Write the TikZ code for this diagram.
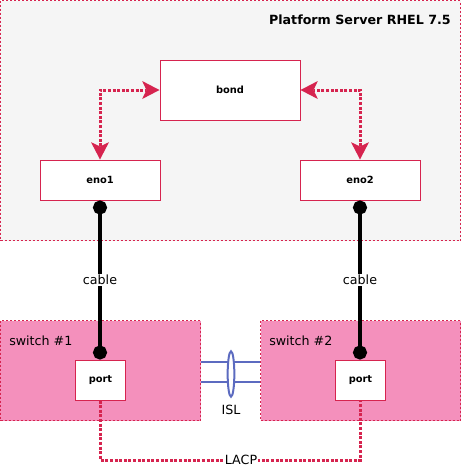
\documentclass[tikz,border=0pt]{standalone}
\usepackage{fontspec}
\setmainfont{DejaVu Sans}
\usetikzlibrary{arrows.meta,calc,shapes.geometric}
\definecolor{crim}{HTML}{D6244F}
\definecolor{pinkfill}{HTML}{F490BC}
\definecolor{srvfill}{HTML}{F5F5F5}
\definecolor{islblue}{HTML}{5C6BC0}
\tikzset{bondtip/.tip={Stealth[length=13pt,width=13.5pt,inset=3.2pt,fill=crim,line width=0pt]}}
\begin{document}
\begin{tikzpicture}[x=0.75pt,y=-0.75pt,
  container/.style={draw=crim,line width=0.75pt,dash pattern=on 1.5pt off 1.5pt,inner sep=0pt,anchor=north west},
  boxnode/.style={draw=crim,fill=white,line width=0.75pt,inner sep=0pt,font=\bfseries\fontsize{7.4}{8}\selectfont},
  bondlink/.style={draw=crim,line width=2.25pt,dash pattern=on 2.25pt off 1.2pt,{bondtip}-{bondtip}},
  cablelink/.style={draw=black,line width=3pt,{Circle[length=10.5pt]}-{Circle[length=10.5pt]}},
  lbl/.style={font=\fontsize{9.5}{11}\selectfont,inner sep=1pt},
  lacp/.style={draw=crim,line width=2.25pt,dash pattern=on 2.25pt off 1.2pt},
  isl/.style={draw=islblue,line width=1.5pt}
]
\useasboundingbox (0,0) rectangle (461,469);
% containers
\node[container,fill=srvfill,minimum width=345pt,minimum height=180pt] (srv) at (0,0) {};
\node[container,fill=pinkfill,minimum width=150pt,minimum height=75pt] (sw1) at (0,320) {};
\node[container,fill=pinkfill,minimum width=150pt,minimum height=75pt] (sw2) at (260,320) {};
\node[anchor=east,inner sep=0pt,font=\bfseries\fontsize{9.5}{11}\selectfont] (title) at (451,20) {Platform Server RHEL 7.5};
\node[anchor=west,lbl,inner sep=0pt] (sw1l) at (9,341) {switch \#1};
\node[anchor=west,lbl,inner sep=0pt] (sw2l) at (269,341) {switch \#2};
% boxes
\node[boxnode,minimum width=105pt,minimum height=45pt] (bond) at (230,90) {bond};
\node[boxnode,minimum width=90pt,minimum height=30pt] (eno1) at (100,180) {eno1};
\node[boxnode,minimum width=90pt,minimum height=30pt] (eno2) at (360,180) {eno2};
\node[boxnode,minimum width=38pt,minimum height=30pt] (port1) at (100.5,380) {port};
\node[boxnode,minimum width=38pt,minimum height=30pt] (port2) at (360.5,380) {port};
% bond links
\draw[bondlink] (eno1.north) |- (bond.west);
\draw[bondlink] (eno2.north) |- (bond.east);
% cables
\draw[cablelink] (eno1.south) -- (port1.north -| eno1.south) node[pos=0.5,lbl,fill=white] (c1) {cable};
\draw[cablelink] (eno2.south) -- (port2.north -| eno2.south) node[pos=0.5,lbl,fill=white] (c2) {cable};
% ISL
\coordinate (i1a) at ($(sw1.east)+(0,-9)$);
\coordinate (i1b) at ($(sw1.east)+(0,11)$);
\draw[isl] (i1a) -- (i1a -| sw2.west);
\draw[isl] (i1b) -- (i1b -| sw2.west);
\node[draw=islblue,line width=1.5pt,fill=white,ellipse,minimum width=5pt,minimum height=34pt,inner sep=0pt] (ell) at (231,374) {};
\node[lbl] (isllbl) at (231,410) {ISL};
% LACP
\coordinate (lb1) at (100.5,460);
\coordinate (lb2) at (360.5,460);
\draw[lacp] (port1.south) -- (lb1) -- (lb2) -- (port2.south);
\node[lbl,fill=white] (lacpl) at (241,460) {LACP};
\end{tikzpicture}
\end{document}
